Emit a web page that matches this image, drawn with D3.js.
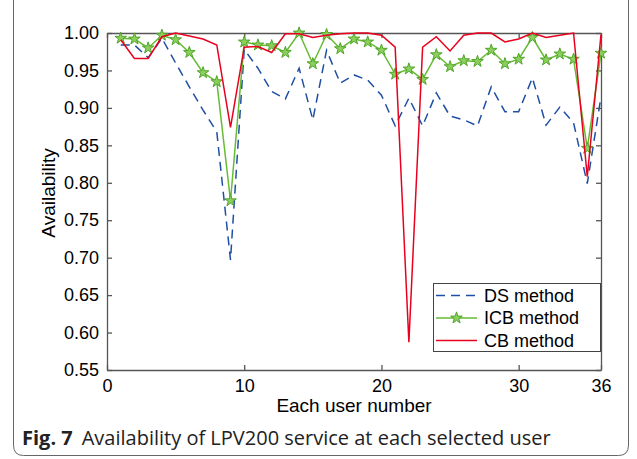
<!DOCTYPE html>
<html>
<head>
<meta charset="utf-8">
<script src="https://cdn.jsdelivr.net/npm/d3@7"></script>
<style>
  body { margin: 0; background: #fff; }
  svg { display: block; }
</style>
</head>
<body>
<div id="chart"></div>
<script>
// users on the x axis
const users = [1, 2, 3, 4, 5, 6, 7, 8, 9, 10, 11, 12, 13, 14, 15, 16, 17, 18,
               19, 20, 21, 22, 23, 24, 25, 26, 27, 28, 29, 30, 31, 32, 33, 34, 35, 36];
const dsValues = [0.984, 0.984, 0.967, 0.993, 0.960, 0.928, 0.897, 0.868, 0.697, 0.978,
                  0.953, 0.922, 0.912, 0.953, 0.884, 0.977, 0.933, 0.944, 0.937, 0.917,
                  0.876, 0.913, 0.876, 0.920, 0.889, 0.884, 0.876, 0.928, 0.895, 0.895,
                  0.940, 0.877, 0.901, 0.880, 0.799, 0.915];
const icbValues = [0.993, 0.992, 0.980, 0.997, 0.991, 0.974, 0.947, 0.935, 0.776, 0.988,
                   0.984, 0.983, 0.974, 1.000, 0.959, 0.998, 0.979, 0.992, 0.988, 0.977,
                   0.945, 0.952, 0.938, 0.971, 0.955, 0.963, 0.962, 0.977, 0.959, 0.965,
                   0.994, 0.964, 0.972, 0.965, 0.846, 0.973];
const cbValues = [0.991, 0.966, 0.966, 0.995, 1.000, 0.996, 0.992, 0.984, 0.874, 0.981,
                  0.982, 0.974, 0.999, 0.999, 0.994, 0.997, 0.999, 1.000, 1.000, 0.997,
                  0.981, 0.587, 0.981, 0.995, 0.976, 0.997, 1.000, 1.000, 0.988, 0.992,
                  1.000, 0.994, 0.997, 1.000, 0.808, 0.998];
const xTicks = [0, 10, 20, 30, 36];
const yTicks = [0.55, 0.60, 0.65, 0.70, 0.75, 0.80, 0.85, 0.90, 0.95, 1.00];
const seriesNames = ["DS method", "ICB method", "CB method"];

const W = 637, H = 459;
const margin = {top: 33, right: 36, bottom: 89, left: 107};
const font = "'Liberation Sans', Arial, sans-serif";
const blue = "#1f4fa3", green = "#66bb33", red = "#e8001e";

const svg = d3.select("#chart").append("svg")
    .attr("width", W)
    .attr("height", H);

// outer figure frame with rounded bottom corners
svg.append("path")
    .attr("d", "M13.5,-5 L13.5,445 Q13.5,455.5 23.5,455.5 L618.5,455.5 Q628.5,455.5 628.5,445 L628.5,-5")
    .attr("fill", "none")
    .attr("stroke", "#666")
    .attr("stroke-width", 1);

const x = d3.scaleLinear().domain([0, 36]).range([margin.left, W - margin.right]);
const y = d3.scaleLinear().domain([0.55, 1.00]).range([H - margin.bottom, margin.top]);

const g = svg.append("g");

// axes box with inward ticks on all four sides
const axisColor = "#555";
const bottomAxis = g.append("g").attr("transform", `translate(0,${y(0.55)})`)
    .call(d3.axisBottom(x).tickValues(xTicks).tickSizeInner(-5).tickSizeOuter(0).tickPadding(9));
const topAxis = g.append("g").attr("transform", `translate(0,${y(1.00)})`)
    .call(d3.axisTop(x).tickValues(xTicks).tickSizeInner(-5).tickSizeOuter(0).tickFormat(""));
const leftAxis = g.append("g").attr("transform", `translate(${x(0)},0)`)
    .call(d3.axisLeft(y).tickValues(yTicks).tickSizeInner(-5).tickSizeOuter(0).tickPadding(8)
        .tickFormat(d3.format(".2f")));
const rightAxis = g.append("g").attr("transform", `translate(${x(36)},0)`)
    .call(d3.axisRight(y).tickValues(yTicks).tickSizeInner(-5).tickSizeOuter(0).tickFormat(""));

[bottomAxis, topAxis, leftAxis, rightAxis].forEach((a) => {
    a.select(".domain").attr("stroke", axisColor).attr("stroke-width", 1.3);
    a.selectAll(".tick line").attr("stroke", axisColor).attr("stroke-width", 1.3);
    a.selectAll(".tick text")
        .attr("fill", "#000")
        .style("font-family", font)
        .style("font-size", "18px");
});
bottomAxis.selectAll(".tick text").attr("dy", "0.71em");

// axis labels
g.append("text")
    .attr("x", (x(0) + x(36)) / 2)
    .attr("y", 412)
    .attr("text-anchor", "middle")
    .style("font-family", font)
    .style("font-size", "19px")
    .text("Each user number");
g.append("text")
    .attr("transform", "translate(55,193) rotate(-90)")
    .attr("text-anchor", "middle")
    .style("font-family", font)
    .style("font-size", "19px")
    .text("Availability");

const line = (vals) => d3.line()
    .x((d, i) => x(users[i]))
    .y((d) => y(d))(vals);

// DS method
g.append("path")
    .attr("d", line(dsValues))
    .attr("fill", "none")
    .attr("stroke", blue)
    .attr("stroke-width", 1.5)
    .attr("stroke-dasharray", "9,6");

// ICB method
g.append("path")
    .attr("d", line(icbValues))
    .attr("fill", "none")
    .attr("stroke", green)
    .attr("stroke-width", 1.5);

const star = d3.symbol().type(d3.symbolStar).size(42);
g.selectAll(".star")
    .data(icbValues)
    .enter().append("path")
    .attr("class", "star")
    .attr("d", star)
    .attr("transform", (d, i) => `translate(${x(users[i])},${y(d)})`)
    .attr("fill", "#8ccf5c")
    .attr("stroke", "#4fa52a")
    .attr("stroke-width", 1);

// CB method
g.append("path")
    .attr("d", line(cbValues))
    .attr("fill", "none")
    .attr("stroke", red)
    .attr("stroke-width", 1.5);

// legend
const legend = g.append("g");
legend.append("rect")
    .attr("x", 433.5)
    .attr("y", 283.5)
    .attr("width", 167)
    .attr("height", 68)
    .attr("fill", "#fff")
    .attr("stroke", "#444")
    .attr("stroke-width", 1);

const legendRows = [
    {name: seriesNames[0], color: blue, dash: "9,6", marker: false, y: 295.5},
    {name: seriesNames[1], color: green, dash: null, marker: true, y: 318},
    {name: seriesNames[2], color: red, dash: null, marker: false, y: 340.5}
];
legendRows.forEach((r) => {
    legend.append("line")
        .attr("x1", 436).attr("x2", 477)
        .attr("y1", r.y).attr("y2", r.y)
        .attr("stroke", r.color)
        .attr("stroke-width", 1.5)
        .attr("stroke-dasharray", r.dash);
    if (r.marker) {
        legend.append("path")
            .attr("d", star)
            .attr("transform", `translate(456.5,${r.y})`)
            .attr("fill", "#8ccf5c")
            .attr("stroke", "#4fa52a")
            .attr("stroke-width", 1);
    }
    legend.append("text")
        .attr("x", 484)
        .attr("y", r.y)
        .attr("dy", "0.36em")
        .style("font-family", font)
        .style("font-size", "18px")
        .text(r.name);
});

// caption
const caption = svg.append("text")
    .attr("x", 22)
    .attr("y", 445)
    .style("font-family", "'Open Sans', 'Noto Sans', sans-serif")
    .style("font-size", "20px")
    .attr("fill", "#222");
caption.append("tspan").style("font-weight", "bold").text("Fig. 7");
caption.append("tspan").attr("dx", 9).text("Availability of LPV200 service at each selected user");
</script>
</body>
</html>
